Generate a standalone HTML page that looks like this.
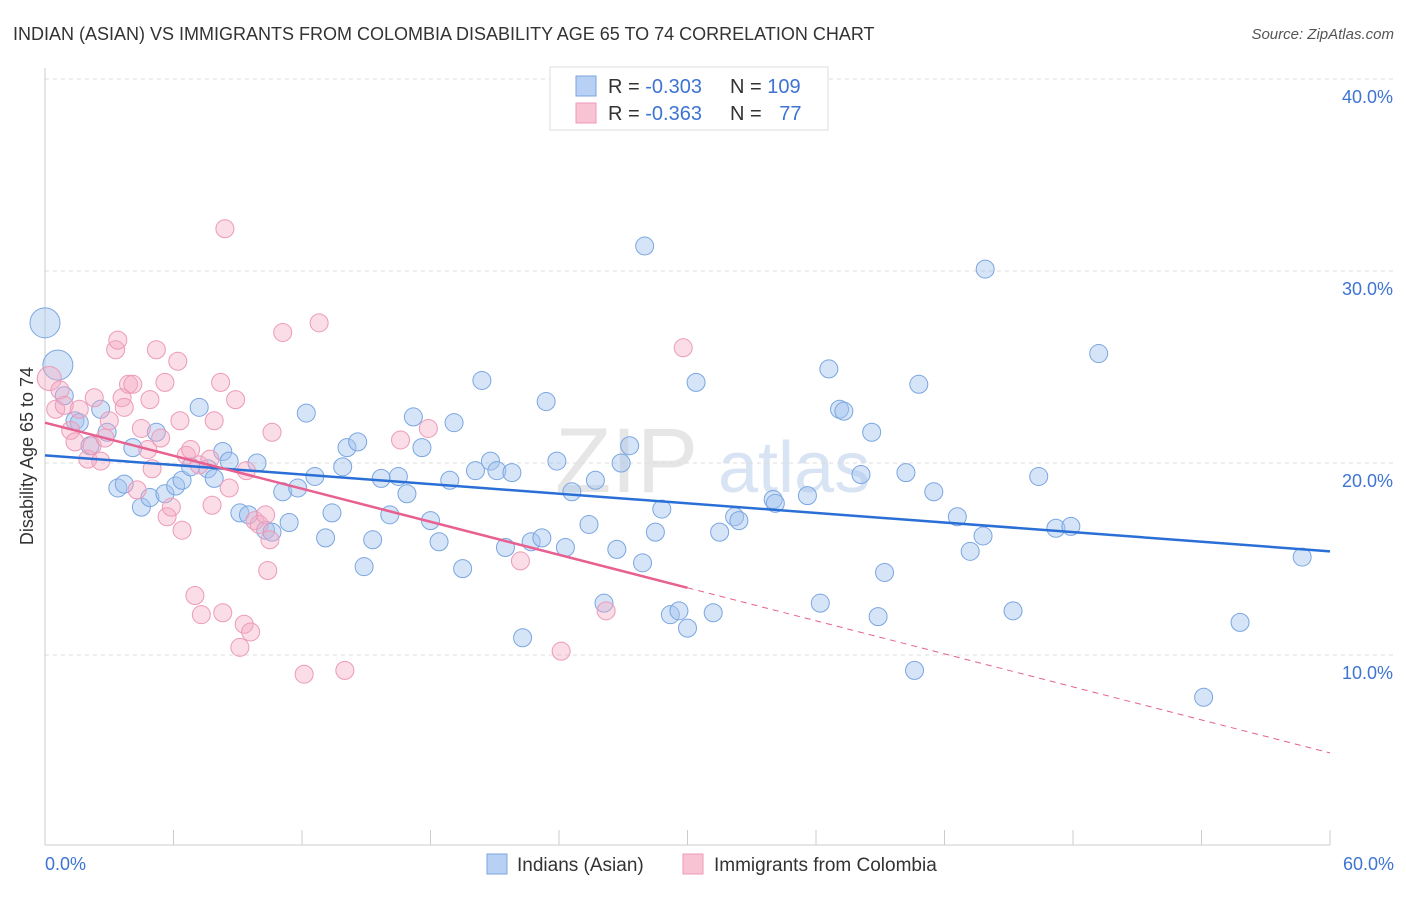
<!DOCTYPE html>
<html><head><meta charset="utf-8"><style>
body{margin:0;background:#fff;font-family:"Liberation Sans",sans-serif;}
svg text{font-family:"Liberation Sans",sans-serif;}
</style></head><body>
<svg id="chart" width="1406" height="892" xmlns="http://www.w3.org/2000/svg">
<text x="13" y="40" font-size="18" fill="#333">INDIAN (ASIAN) VS IMMIGRANTS FROM COLOMBIA DISABILITY AGE 65 TO 74 CORRELATION CHART</text>
<text x="1394" y="39" font-size="15" fill="#555" text-anchor="end" font-style="italic">Source: ZipAtlas.com</text>
<text x="555" y="492" font-size="92" fill="#e6e6e6" font-family="Liberation Serif">ZIP</text>
<text x="718" y="492" font-size="72" fill="#d8e4f4">atlas</text>
<g id="grid"></g><g id="axes"></g><g id="pts"></g><g id="lines"></g>
<text transform="translate(33,456) rotate(-90)" font-size="18" fill="#333" text-anchor="middle">Disability Age 65 to 74</text>
<text x="45" y="870" font-size="18" fill="#3d74d3">0.0%</text>
<text x="1394" y="870" font-size="18" fill="#3d74d3" text-anchor="end">60.0%</text>
<g>
<rect x="550" y="67" width="278" height="63" fill="#fff" stroke="#ddd"/>
<rect x="576" y="76" width="20" height="20" fill="#b8d0f4" stroke="#7aa6e0"/>
<rect x="576" y="103" width="20" height="20" fill="#f8c4d4" stroke="#ec9ab8"/>
<text x="608" y="93" font-size="20" fill="#333">R = <tspan fill="#3d74d3">-0.303</tspan></text>
<text x="730" y="93" font-size="20" fill="#333">N = <tspan fill="#3d74d3">109</tspan></text>
<text x="608" y="120" font-size="20" fill="#333">R = <tspan fill="#3d74d3">-0.363</tspan></text>
<text x="730" y="120" font-size="20" fill="#333">N = <tspan fill="#3d74d3" dx="12">77</tspan></text>
</g>
<g>
<rect x="487" y="854" width="20" height="20" fill="#b8d0f4" stroke="#7aa6e0"/>
<text x="517" y="871" font-size="19" fill="#333">Indians (Asian)</text>
<rect x="683" y="854" width="20" height="20" fill="#f8c4d4" stroke="#ec9ab8"/>
<text x="714" y="871" font-size="19" fill="#333">Immigrants from Colombia</text>
</g>
</svg>
<script>
const yTicks=[10,20,30,40];
const yTickLabels=["10.0%","20.0%","30.0%","40.0%"];
const blueX=[0,0.6,0.9,1.4,1.6,2.1,2.6,2.9,3.4,3.7,4.1,4.5,4.9,5.2,5.6,6.1,6.4,6.8,7.2,7.6,7.9,8.3,8.6,9.1,9.5,9.9,10.3,10.6,11.1,11.4,11.8,12.2,12.6,13.1,13.4,13.9,14.1,14.6,14.9,15.3,15.7,16.1,16.5,16.9,17.2,17.6,18.0,18.4,18.9,19.1,19.5,20.1,20.4,20.8,21.1,21.5,21.8,22.3,22.7,23.2,23.4,23.9,24.3,24.6,25.4,25.7,26.1,26.7,26.9,27.3,27.9,28.0,28.5,28.8,29.2,29.6,30.0,30.4,31.2,31.5,32.2,32.4,34.0,34.1,35.6,36.2,36.6,37.1,37.3,38.1,38.6,38.9,39.2,40.2,40.6,40.8,41.5,42.6,43.2,43.8,43.9,45.2,46.4,47.2,47.9,49.2,54.1,55.8,58.7];
const blueY=[27.3,25.1,23.5,22.2,22.1,20.9,22.8,21.6,18.7,18.9,20.8,17.7,18.2,21.6,18.4,18.8,19.1,19.8,22.9,19.7,19.2,20.6,20.1,17.4,17.3,20.0,16.5,16.4,18.5,16.9,18.7,22.6,19.3,16.1,17.4,19.8,20.8,21.1,14.6,16.0,19.2,17.3,19.3,18.4,22.4,20.8,17.0,15.9,19.1,22.1,14.5,19.6,24.3,20.1,19.6,15.6,19.5,10.9,15.9,16.1,23.2,20.1,15.6,18.5,16.8,19.1,12.7,15.5,20.0,20.9,14.8,31.3,16.4,17.6,12.1,12.3,11.4,24.2,12.2,16.4,17.2,17.0,18.1,17.9,18.3,12.7,24.9,22.8,22.7,19.4,21.6,12.0,14.3,19.5,9.2,24.1,18.5,17.2,15.4,16.2,30.1,12.3,19.3,16.6,16.7,25.7,7.8,11.7,15.1];
const pinkX=[0.2,0.5,0.7,0.9,1.2,1.4,1.6,2.0,2.2,2.3,2.6,2.8,3.0,3.3,3.4,3.6,3.7,3.9,4.1,4.3,4.5,4.8,4.9,5.0,5.2,5.4,5.6,5.7,5.9,6.2,6.3,6.4,6.6,6.8,7.0,7.2,7.3,7.7,7.8,7.9,8.2,8.3,8.4,8.6,8.9,9.1,9.3,9.6,9.4,9.8,10.0,10.3,10.4,10.5,10.6,11.1,12.1,12.8,14.0,16.6,17.9,22.2,24.1,26.2,29.8];
const pinkY=[24.4,22.8,23.8,23.0,21.7,21.1,22.8,20.2,20.9,23.4,20.1,21.3,22.2,25.9,26.4,23.4,22.9,24.1,24.1,18.6,21.8,20.7,23.3,19.7,25.9,21.3,24.2,17.2,17.7,25.3,22.2,16.5,20.4,20.7,13.1,19.9,12.1,20.2,17.8,22.2,24.2,12.2,32.2,18.7,23.3,10.4,11.6,11.2,19.6,17.0,16.8,17.3,14.4,16.0,21.6,26.8,9.0,27.3,9.2,21.2,21.8,14.9,10.2,12.3,26.0];
const blueTrend=[20.4,15.4];
const pinkTrend=[22.1,4.9];
const pinkSolidEnd=30;
const xTicks=[0,6,12,18,24,30,36,42,48,54,60];
const NS="http://www.w3.org/2000/svg";
const X=v=>45+v*(1285/60);
const Y=v=>847-v*19.2;
function mk(tag,attrs,parent){const e=document.createElementNS(NS,tag);for(const k in attrs)e.setAttribute(k,attrs[k]);document.getElementById(parent).appendChild(e);return e;}
yTicks.forEach((t,i)=>{
 const l=mk('line',{x1:45,x2:1394,y1:Y(t),y2:Y(t),stroke:'#ddd','stroke-dasharray':'4,4'},'grid');
 
 
 const tx=mk('text',{x:1393,y:Y(t)+24,'font-size':18,fill:'#3d74d3','text-anchor':'end'},'grid');
 tx.textContent=yTickLabels[i];
 
 
});
const topG=mk('line',{x1:45,x2:1394,y1:79,y2:79,stroke:'#ddd','stroke-dasharray':'4,4'},'grid');


const ya=mk('line',{x1:45,x2:45,y1:68,y2:845,stroke:'#ccc'},'axes');


const xa=mk('line',{x1:45,x2:1330,y1:845,y2:845,stroke:'#ccc'},'axes');


xTicks.forEach(t=>{const l=mk('line',{x1:X(t),x2:X(t),y1:830,y2:845,stroke:'#ccc'},'axes');
 
 });
blueX.forEach((v,i)=>{const r=i<2?15:9;const c=mk('circle',{cx:X(v),cy:Y(blueY[i]),r:r,fill:'rgba(164,196,240,0.45)',stroke:'#7aa6e0','stroke-width':1},'pts');
 
 });
pinkX.forEach((v,i)=>{const r=i<1?12:9;const c=mk('circle',{cx:X(v),cy:Y(pinkY[i]),r:r,fill:'rgba(244,170,196,0.4)',stroke:'#ec9ab8','stroke-width':1},'pts');
 
 });
const bl=mk('line',{x1:X(0),y1:Y(blueTrend[0]),x2:X(60),y2:Y(blueTrend[1]),stroke:'#2a6fd6','stroke-width':2.5},'lines');


const pAt=x=>pinkTrend[0]+(pinkTrend[1]-pinkTrend[0])*x/60;
const pl=mk('line',{x1:X(0),y1:Y(pinkTrend[0]),x2:X(pinkSolidEnd),y2:Y(pAt(pinkSolidEnd)),stroke:'#e8608f','stroke-width':2.5},'lines');


const pd=mk('line',{x1:X(pinkSolidEnd),y1:Y(pAt(pinkSolidEnd)),x2:X(60),y2:Y(pinkTrend[1]),stroke:'#e8608f','stroke-width':1,'stroke-dasharray':'6,5'},'lines');


</script>
</body></html>
